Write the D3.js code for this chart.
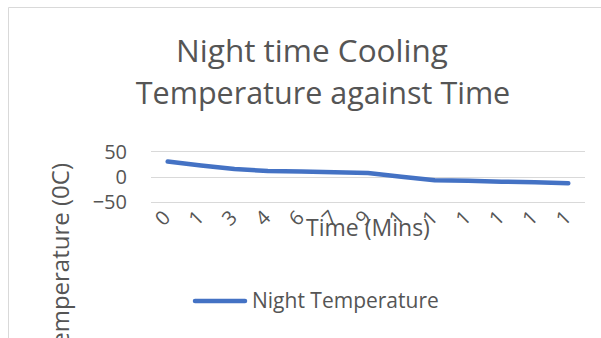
<!DOCTYPE html>
<html>
<head>
<meta charset="utf-8">
<script src="https://cdn.jsdelivr.net/npm/d3@7"></script>
<style>
  html, body { margin: 0; padding: 0; background: #fff; overflow: hidden; }
  svg { display: block; font-family: "Open Sans", sans-serif; }
</style>
</head>
<body>
<svg id="chart" width="601" height="338"></svg>
<script>
// Data
const categories = ["0", "1.5", "3", "4.5", "6", "7.5", "9", "10.5", "12", "13.5", "15", "16.5", "18"];
const tickLabels = ["0", "1", "3", "4", "6", "7", "9", "1", "1", "1", "1", "1", "1"];
const nightTemperature = [30, 22, 15, 11, 10, 8.5, 7, 0, -7, -8, -10, -11, -13];
const yTicks = [-50, 0, 50];
const titleLines = ["Night time Cooling", "Temperature against Time"];
const seriesName = "Night Temperature";
const xTitle = "Time (Mins)";
const yTitle = "Temperature (0C)";

const svg = d3.select("#chart");
const textColor = "#555555";
const gridColor = "#d9d9d9";
const lineColor = "#4472C4";

// Chart frame
svg.append("path")
  .attr("d", "M8.5,338 L8.5,7.5 L601,7.5")
  .attr("fill", "none")
  .attr("stroke", gridColor)
  .attr("stroke-width", 1);

// Title
svg.append("text").attr("x", 312).attr("y", 62)
  .attr("text-anchor", "middle").attr("font-size", 31.5).attr("fill", textColor)
  .text(titleLines[0]);
svg.append("text").attr("x", 323).attr("y", 104)
  .attr("text-anchor", "middle").attr("font-size", 30.5).attr("fill", textColor)
  .text(titleLines[1]);

// Scales
const plot = { left: 151, right: 585, top: 151.3, bottom: 202 };
const x = d3.scaleBand().domain(categories).range([plot.left, plot.right]);
const y = d3.scaleLinear().domain([-50, 50]).range([plot.bottom, plot.top]);

// Gridlines
svg.append("g").selectAll("line").data(yTicks).join("line")
  .attr("x1", plot.left).attr("x2", plot.right)
  .attr("y1", d => Math.round(y(d)) + 0.5).attr("y2", d => Math.round(y(d)) + 0.5)
  .attr("stroke", gridColor).attr("stroke-width", 1);

// Y axis labels
const yAxis = d3.axisLeft(y).tickValues(yTicks).tickSize(0).tickPadding(0);
const yg = svg.append("g").attr("transform", `translate(${127},0)`).call(yAxis);
yg.select(".domain").remove();
yg.selectAll("text").attr("font-family", "Open Sans, sans-serif")
  .attr("font-size", 20).attr("fill", textColor).attr("dy", "0.34em");

// X axis labels (rotated)
const xg = svg.append("g");
xg.selectAll("text").data(categories).join("text")
  .attr("transform", d => `translate(${x(d) + x.bandwidth() / 2 - 5},${218}) rotate(-45)`)
  .attr("text-anchor", "middle")
  .attr("dy", "0.35em")
  .attr("font-size", 20)
  .attr("fill", textColor)
  .text((d, i) => tickLabels[i]);

// Axis titles
svg.append("text").attr("x", 368).attr("y", 236)
  .attr("text-anchor", "middle").attr("font-size", 23).attr("fill", textColor)
  .text(xTitle);
svg.append("text")
  .attr("transform", `translate(69,163) rotate(-90)`)
  .attr("text-anchor", "end").attr("font-size", 24).attr("fill", textColor)
  .text(yTitle);

// Line
const line = d3.line()
  .x((d, i) => x(categories[i]) + x.bandwidth() / 2)
  .y(d => y(d));
svg.append("path").datum(nightTemperature)
  .attr("d", line)
  .attr("fill", "none")
  .attr("stroke", lineColor)
  .attr("stroke-width", 4.5)
  .attr("stroke-linecap", "round")
  .attr("stroke-linejoin", "round");

// Legend
svg.append("line").attr("x1", 195).attr("x2", 245).attr("y1", 301).attr("y2", 301)
  .attr("stroke", lineColor).attr("stroke-width", 4.5).attr("stroke-linecap", "round");
svg.append("text").attr("x", 252).attr("y", 308)
  .attr("font-size", 21).attr("fill", textColor)
  .text(seriesName);
</script>
</body>
</html>
